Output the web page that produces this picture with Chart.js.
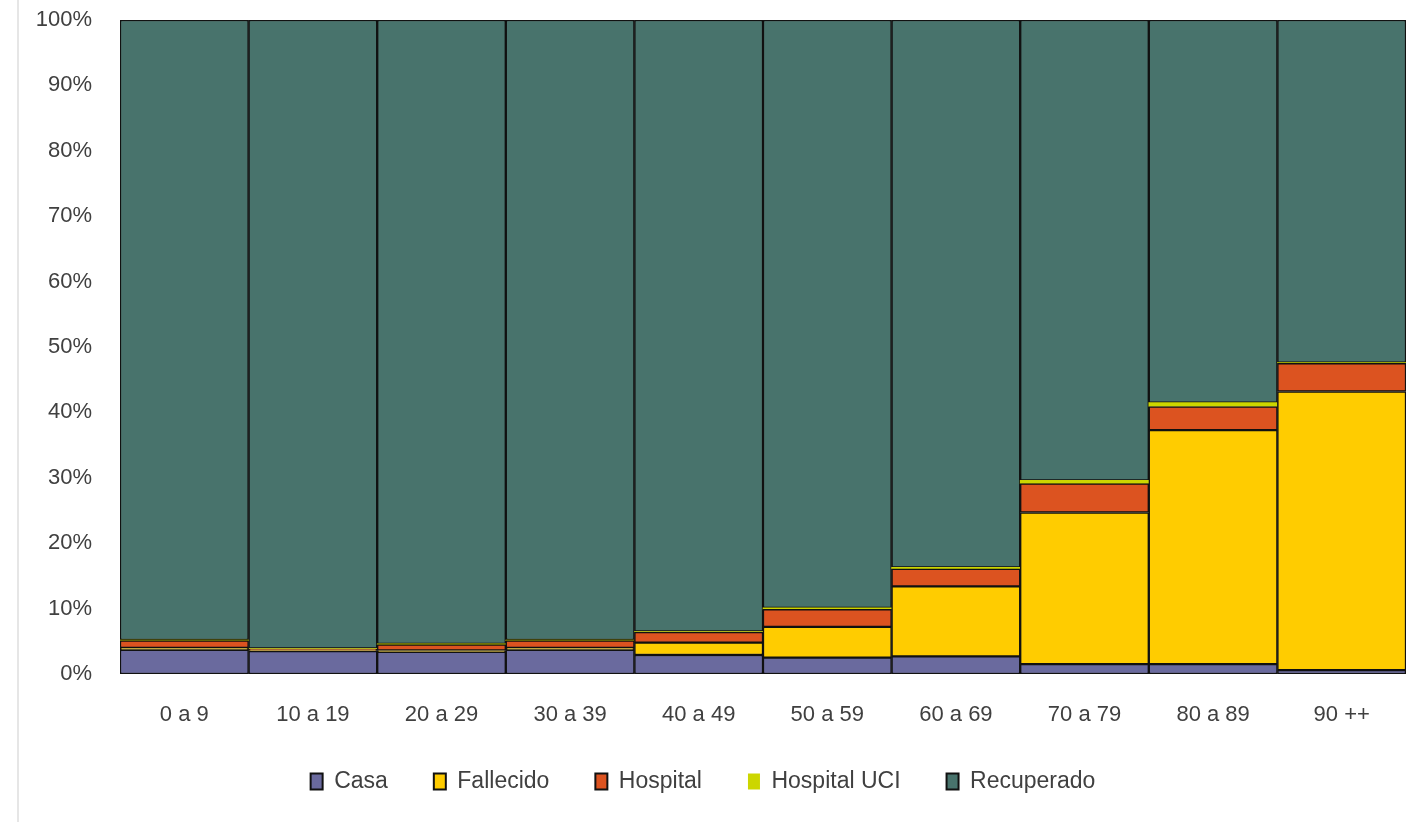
<!DOCTYPE html>
<html>
<head>
<meta charset="utf-8">
<script src="https://cdn.jsdelivr.net/npm/chart.js@4.4.0/dist/chart.umd.min.js"></script>
<style>
  html, body { margin: 0; padding: 0; background: #fff; }
  #wrap { position: relative; width: 1410px; height: 822px; }
  #edge { position: absolute; left: 17px; top: 0; width: 2px; height: 822px; background: #e6e6e6; }
  canvas { position: absolute; left: 0; top: 0; }
</style>
</head>
<body>
<div id="wrap"><div id="edge"></div><canvas id="c" width="1410" height="822"></canvas></div>
<script>
const categories = ["0 a 9", "10 a 19", "20 a 29", "30 a 39", "40 a 49", "50 a 59", "60 a 69", "70 a 79", "80 a 89", "90 ++"];
const casa       = [3.7, 3.5, 3.4, 3.7, 2.9, 2.5, 2.7, 1.5, 1.5, 0.6];
const fallecido  = [0.3, 0.1, 0.2, 0.3, 1.9, 4.7, 10.7, 23.2, 35.8, 42.6];
const hospital   = [1.1, 0.2, 0.9, 1.1, 1.6, 2.7, 2.7, 4.4, 3.6, 4.3];
const hospitalUCI= [0.1, 0.1, 0.1, 0.1, 0.1, 0.2, 0.2, 0.5, 0.6, 0.1];
const recuperado = [94.8, 96.1, 95.4, 94.8, 93.5, 89.9, 83.7, 70.4, 58.5, 52.4];
const yTicks = [0, 10, 20, 30, 40, 50, 60, 70, 80, 90, 100];

const border = '#111111';
const mk = (label, data, color, bw) => ({
  label, data, backgroundColor: color, borderColor: border, borderWidth: bw,
  borderSkipped: false, categoryPercentage: 1.0, barPercentage: 1.0
});

new Chart(document.getElementById('c'), {
  type: 'bar',
  data: {
    labels: categories,
    datasets: [
      mk('Casa', casa, '#6A6A9E', 1.5),
      mk('Fallecido', fallecido, '#FFCC00', 1.5),
      mk('Hospital', hospital, '#DC5320', 1.5),
      mk('Hospital UCI', hospitalUCI, '#CCD600', 0),
      mk('Recuperado', recuperado, '#48736C', 1.5)
    ]
  },
  options: {
    responsive: false,
    animation: false,
    layout: { padding: { left: 0, right: 4, top: 20, bottom: 19 } },
    plugins: {
      tooltip: { enabled: false },
      legend: {
        position: 'bottom',
        labels: {
          boxWidth: 12, boxHeight: 16, padding: 46,
          color: '#404040',
          font: { family: 'Liberation Sans', size: 23 },
          generateLabels(chart) {
            return chart.data.datasets.map((ds, i) => ({
              text: ds.label, fillStyle: ds.backgroundColor,
              strokeStyle: border, lineWidth: ds.borderWidth ? 2 : 0,
              hidden: false, datasetIndex: i, fontColor: '#404040'
            }));
          }
        }
      }
    },
    scales: {
      x: {
        stacked: true,
        grid: { display: false, drawTicks: false },
        border: { display: false },
        ticks: { color: '#404040', padding: 28, font: { family: 'Liberation Sans', size: 22 } },
        afterFit(s) { s.height = 50; s.paddingLeft = 0; s.paddingRight = 0; }
      },
      y: {
        stacked: true, min: 0, max: 100,
        afterBuildTicks(s) { s.ticks = yTicks.map(v => ({ value: v })); },
        grid: { display: false, drawTicks: false },
        border: { display: false },
        ticks: {
          color: '#404040', padding: 28,
          font: { family: 'Liberation Sans', size: 22 },
          callback: v => v + '%'
        },
        afterFit(s) { s.width = 120; s.paddingTop = 0; s.paddingBottom = 0; }
      }
    }
  }
});
</script>
</body>
</html>
